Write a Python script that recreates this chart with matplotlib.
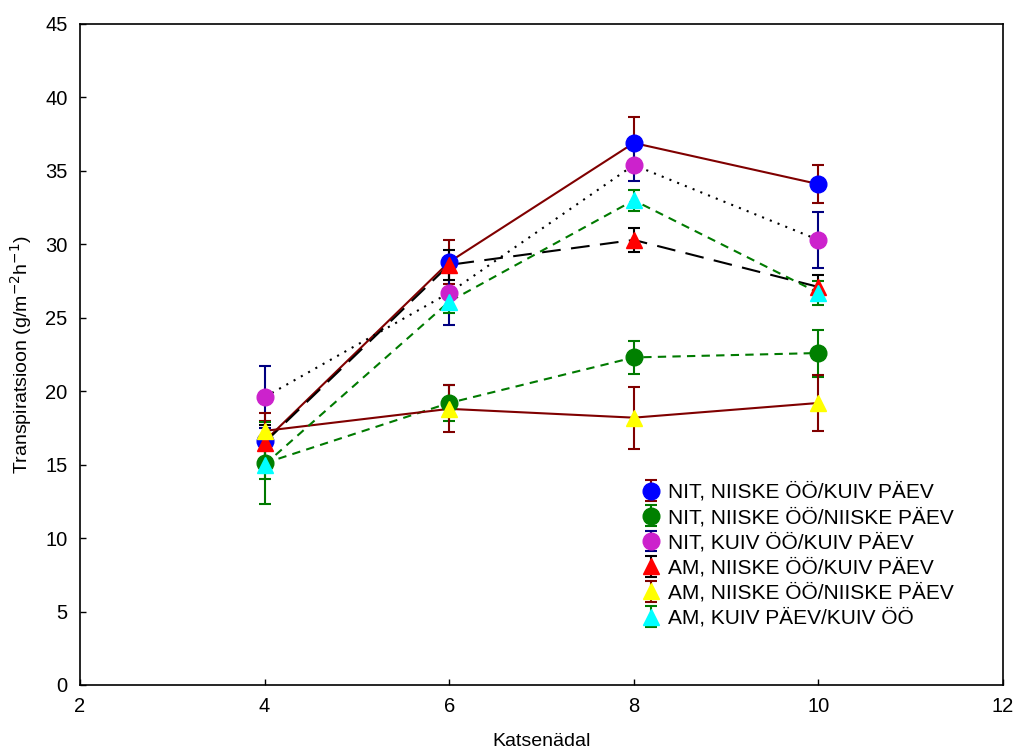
import matplotlib
matplotlib.use("Agg")
import matplotlib.pyplot as plt

plt.rcParams['font.family'] = ['Liberation Sans', 'DejaVu Sans']

weeks = [4, 6, 8, 10]
labels = ["NIT, NIISKE ÖÖ/KUIV PÄEV", "NIT, NIISKE ÖÖ/NIISKE PÄEV", "NIT, KUIV ÖÖ/KUIV PÄEV",
          "AM, NIISKE ÖÖ/KUIV PÄEV", "AM, NIISKE ÖÖ/NIISKE PÄEV", "AM, KUIV PÄEV/KUIV ÖÖ"]
nit_niiske_kuiv = [16.6, 28.8, 36.9, 34.1]
nit_niiske_niiske = [15.1, 19.2, 22.3, 22.6]
nit_kuiv_kuiv = [19.6, 26.7, 35.4, 30.3]
am_niiske_kuiv = [16.5, 28.6, 30.3, 27.1]
am_niiske_niiske = [17.3, 18.8, 18.2, 19.2]
am_kuiv_kuiv = [15.0, 26.1, 33.0, 26.7]

err_nit_niiske_kuiv = [1.4, 1.5, 1.8, 1.3]
err_nit_niiske_niiske = [2.8, 1.2, 1.1, 1.6]
err_nit_kuiv_kuiv = [2.1, 2.2, 1.1, 1.9]
err_am_niiske_kuiv = [1.2, 1.0, 0.8, 0.8]
err_am_niiske_niiske = [1.2, 1.6, 2.1, 1.9]
err_am_kuiv_kuiv = [1.0, 0.8, 0.7, 0.8]

dred = '#800000'
green = '#007A00'
navy = '#000080'

series = [
    (nit_niiske_kuiv, err_nit_niiske_kuiv, 'o', '#0000FF', dred, '-', dred),
    (nit_niiske_niiske, err_nit_niiske_niiske, 'o', '#008000', green, (0, (4, 3)), green),
    (nit_kuiv_kuiv, err_nit_kuiv_kuiv, 'o', '#CC22CC', 'black', (0, (1, 3)), navy),
    (am_niiske_kuiv, err_am_niiske_kuiv, '^', '#FF0000', 'black', (0, (9, 5)), 'black'),
    (am_niiske_niiske, err_am_niiske_niiske, '^', '#FFFF00', dred, '-', dred),
    (am_kuiv_kuiv, err_am_kuiv_kuiv, '^', '#00FFFF', green, (0, (4, 3)), green),
]

fig = plt.figure(figsize=(10.19, 7.54), dpi=100)
ax = fig.add_axes([80/1019, 69/754, 923/1019, 661/754])

handles = []
for (vals, errs, m, mc, lc, ls, ec), lab in zip(series, labels):
    ax.plot(weeks, vals, color=lc, linestyle=ls, linewidth=1.5, zorder=2)
    h = ax.errorbar(weeks, vals, yerr=errs, fmt=m, color=mc, markersize=12,
                    markeredgecolor=mc, ecolor=ec, elinewidth=1.5, capsize=4,
                    capthick=1.5, zorder=3, label=lab)
    handles.append(h)

ax.set_xlim(2, 12)
ax.set_ylim(0, 45)
ax.set_xticks([2, 4, 6, 8, 10, 12])
ax.set_yticks(range(0, 46, 5))
ax.tick_params(direction='in', length=4, width=1, labelsize=14.5, pad=9)
for s in ax.spines.values():
    s.set_linewidth(1.2)
ax.set_xlabel('Katsenädal', fontsize=14, labelpad=12)
ax.set_ylabel('Transpiratsioon (g/m$^{-2}$h$^{-1}$)', fontsize=14, labelpad=8)

ax.legend(handles=handles, labels=labels, loc='upper left',
          bbox_to_anchor=(630/1019, 1 - 472/754), bbox_transform=fig.transFigure,
          frameon=False, fontsize=15, handlelength=1.0, handletextpad=0.3,
          labelspacing=0.27, borderpad=0)

fig.savefig('out.png', dpi=100)
